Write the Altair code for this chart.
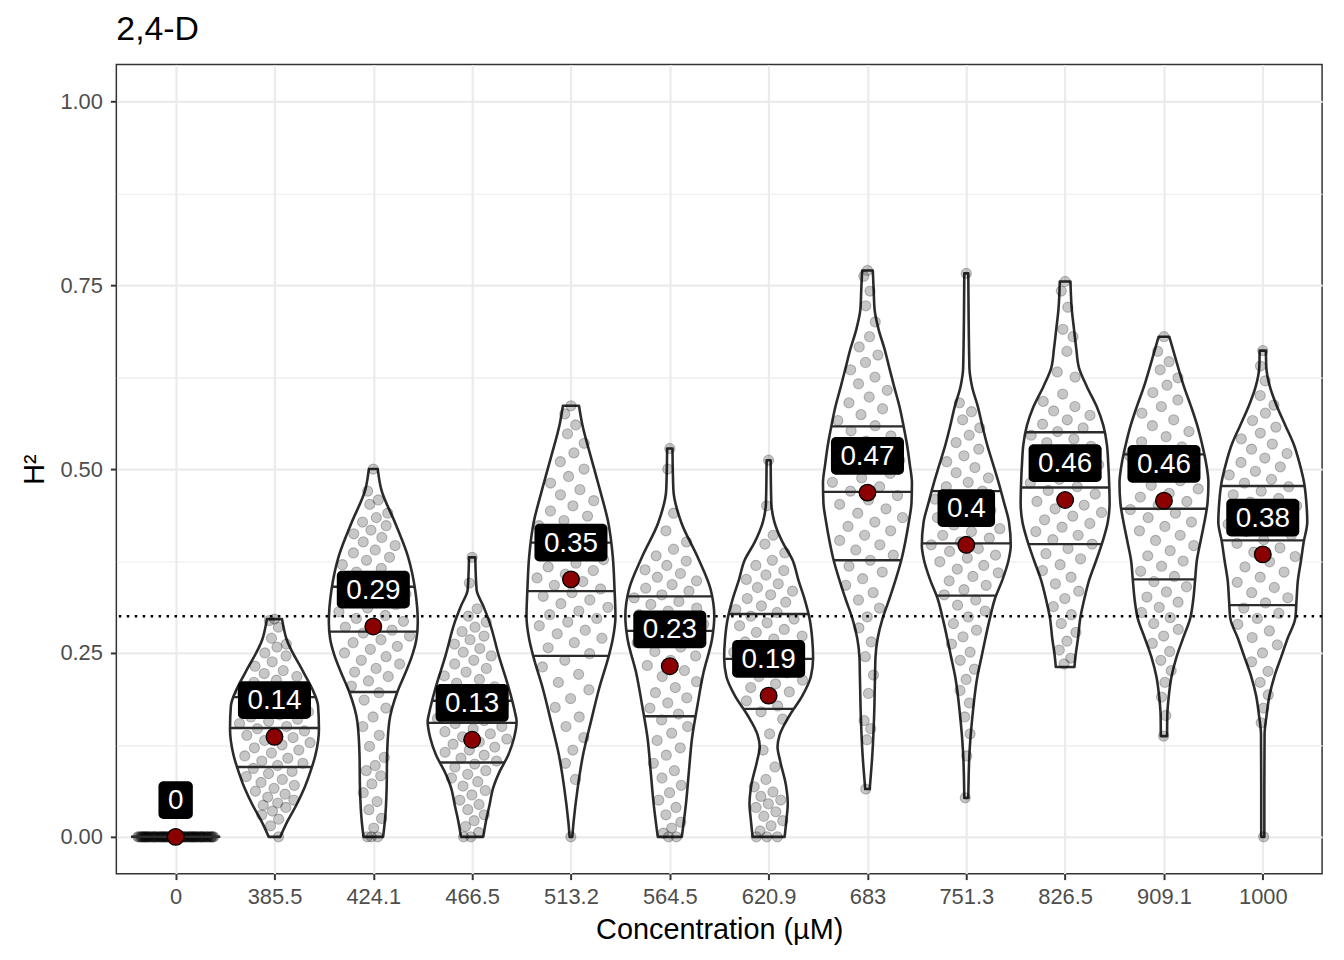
import json
import altair as alt
import numpy as np
import pandas as pd

# ---------------- data ----------------
categories = ["0", "385.5", "424.1", "466.5", "513.2", "564.5", "620.9",
              "683", "751.3", "826.5", "909.1", "1000"]
means = [0.0, 0.136, 0.286, 0.132, 0.350, 0.232, 0.192, 0.468, 0.397, 0.458, 0.457, 0.384]
mean_labels = ["0", "0.14", "0.29", "0.13", "0.35", "0.23", "0.19", "0.47", "0.4", "0.46", "0.46", "0.38"]
q25 = [0.0, 0.095, 0.197, 0.101, 0.246, 0.164, 0.174, 0.376, 0.328, 0.398, 0.350, 0.315]
q50 = [0.0, 0.148, 0.279, 0.155, 0.334, 0.280, 0.242, 0.469, 0.399, 0.475, 0.446, 0.403]
q75 = [0.0, 0.190, 0.340, 0.185, 0.400, 0.327, 0.303, 0.558, 0.470, 0.550, 0.520, 0.477]
threshold = [0.3]

# violin outlines: y levels and relative half-width (1 = widest)
vy0 = [0.0]
vw0 = [1.0]
vy1 = [0.0, 0.021, 0.043, 0.066, 0.089, 0.111, 0.147, 0.178, 0.201, 0.224, 0.269, 0.296]
vw1 = [0.13, 0.29, 0.49, 0.67, 0.81, 0.92, 1.0, 0.98, 0.85, 0.65, 0.27, 0.17]
vy2 = [0.0, 0.021, 0.066, 0.111, 0.157, 0.197, 0.224, 0.246, 0.269, 0.292, 0.336, 0.381, 0.427, 0.472, 0.500]
vw2 = [0.22, 0.26, 0.30, 0.31, 0.36, 0.54, 0.73, 0.87, 0.97, 1.0, 0.94, 0.78, 0.49, 0.18, 0.10]
vy3 = [0.0, 0.021, 0.043, 0.066, 0.089, 0.111, 0.134, 0.157, 0.170, 0.201, 0.246, 0.292, 0.314, 0.336, 0.380]
vw3 = [0.25, 0.31, 0.39, 0.47, 0.62, 0.81, 0.94, 1.0, 0.96, 0.83, 0.60, 0.39, 0.25, 0.10, 0.07]
vy4 = [0.0, 0.021, 0.066, 0.111, 0.157, 0.201, 0.246, 0.269, 0.300, 0.336, 0.381, 0.427, 0.472, 0.516, 0.562, 0.586]
vw4 = [0.03, 0.06, 0.15, 0.27, 0.45, 0.63, 0.85, 0.94, 1.0, 0.98, 0.94, 0.84, 0.65, 0.45, 0.25, 0.18]
vy5 = [0.0, 0.043, 0.089, 0.134, 0.178, 0.224, 0.269, 0.300, 0.336, 0.381, 0.427, 0.472, 0.528]
vw5 = [0.27, 0.36, 0.43, 0.50, 0.62, 0.76, 0.95, 1.0, 0.92, 0.62, 0.26, 0.08, 0.06]
vy6 = [0.0, 0.023, 0.045, 0.070, 0.103, 0.123, 0.139, 0.165, 0.192, 0.218, 0.243, 0.269, 0.297,
       0.323, 0.349, 0.376, 0.401, 0.428, 0.454, 0.512]
vw6 = [0.36, 0.40, 0.43, 0.39, 0.26, 0.20, 0.25, 0.47, 0.76, 0.95, 1.0, 0.98, 0.92,
       0.81, 0.67, 0.54, 0.31, 0.13, 0.06, 0.045]
vy7 = [0.065, 0.112, 0.165, 0.218, 0.244, 0.270, 0.297, 0.323, 0.349, 0.376, 0.401, 0.428, 0.454,
       0.481, 0.507, 0.533, 0.559, 0.585, 0.612, 0.638, 0.664, 0.690, 0.717, 0.743, 0.770]
vw7 = [0.05, 0.11, 0.15, 0.17, 0.18, 0.23, 0.34, 0.49, 0.63, 0.76, 0.85, 0.93, 0.99,
       1.0, 0.95, 0.89, 0.81, 0.72, 0.60, 0.49, 0.38, 0.25, 0.16, 0.14, 0.12]
vy8 = [0.053, 0.112, 0.165, 0.218, 0.244, 0.270, 0.297, 0.323, 0.349, 0.376, 0.396, 0.428, 0.454,
       0.481, 0.507, 0.533, 0.559, 0.585, 0.612, 0.638, 0.766]
vw8 = [0.045, 0.07, 0.14, 0.25, 0.34, 0.43, 0.53, 0.64, 0.81, 0.95, 1.0, 0.96, 0.85,
       0.73, 0.60, 0.47, 0.36, 0.26, 0.13, 0.07, 0.045]
vy9 = [0.231, 0.244, 0.270, 0.297, 0.323, 0.349, 0.376, 0.401, 0.428, 0.454, 0.481, 0.507, 0.533,
       0.559, 0.585, 0.612, 0.638, 0.664, 0.690, 0.717, 0.755]
vw9 = [0.21, 0.23, 0.29, 0.34, 0.43, 0.54, 0.70, 0.84, 0.96, 1.0, 0.99, 0.97, 0.94,
       0.86, 0.71, 0.49, 0.31, 0.25, 0.20, 0.15, 0.12]
vy10 = [0.137, 0.165, 0.192, 0.218, 0.244, 0.270, 0.297, 0.323, 0.349, 0.376, 0.401, 0.428, 0.454,
        0.481, 0.507, 0.533, 0.559, 0.585, 0.612, 0.638, 0.680]
vw10 = [0.07, 0.075, 0.11, 0.17, 0.28, 0.43, 0.59, 0.66, 0.70, 0.74, 0.82, 0.91, 0.98,
        1.0, 0.95, 0.86, 0.75, 0.61, 0.45, 0.32, 0.12]
vy11 = [0.0, 0.070, 0.139, 0.165, 0.192, 0.218, 0.244, 0.270, 0.297, 0.323, 0.349, 0.376, 0.401,
        0.428, 0.454, 0.481, 0.507, 0.533, 0.559, 0.585, 0.612, 0.638, 0.661]
vw11 = [0.035, 0.035, 0.04, 0.085, 0.15, 0.26, 0.41, 0.56, 0.73, 0.76, 0.79, 0.86, 0.92,
        1.0, 0.98, 0.93, 0.83, 0.70, 0.51, 0.32, 0.16, 0.08, 0.07]

# individual estimates (H^2) per concentration
pts0 = [0.0, 0.0, 0.0, 0.0, 0.0, 0.0, 0.0, 0.0, 0.0, 0.0, 0.0, 0.0, 0.0, 0.0, 0.0, 0.0,
        0.0, 0.0, 0.0, 0.0, 0.0, 0.0, 0.0, 0.0, 0.0, 0.0, 0.0, 0.0, 0.0, 0.0, 0.0, 0.0,
        0.0, 0.0, 0.0, 0.0, 0.0, 0.0, 0.0, 0.0, 0.0, 0.0, 0.0, 0.0, 0.0, 0.0, 0.0, 0.0,
        0.0, 0.0, 0.0, 0.0, 0.0, 0.0, 0.0, 0.0, 0.0, 0.0, 0.0, 0.0, 0.0, 0.0, 0.0, 0.0,
        0.0, 0.0, 0.0, 0.0, 0.0, 0.0, 0.0, 0.0, 0.0, 0.0, 0.0, 0.0, 0.0, 0.0, 0.0, 0.0]
pts1 = [0.296, 0.294, 0.285, 0.27, 0.262, 0.258, 0.25, 0.246, 0.238, 0.232, 0.226, 0.222, 0.218,
        0.213, 0.21, 0.204, 0.2, 0.197, 0.193, 0.19, 0.186, 0.183, 0.18, 0.176, 0.173, 0.17,
        0.166, 0.163, 0.16, 0.157, 0.154, 0.15, 0.147, 0.144, 0.141, 0.138, 0.135, 0.131, 0.128,
        0.125, 0.121, 0.118, 0.114, 0.11, 0.107, 0.103, 0.1, 0.097, 0.093, 0.089, 0.086, 0.082,
        0.078, 0.074, 0.07, 0.066, 0.062, 0.058, 0.054, 0.05, 0.046, 0.043, 0.04, 0.035, 0.03,
        0.024, 0.015, 0.0]
pts2 = [0.5, 0.47, 0.458, 0.452, 0.44, 0.434, 0.428, 0.423, 0.417, 0.412, 0.407, 0.401, 0.396,
        0.39, 0.386, 0.38, 0.376, 0.37, 0.365, 0.36, 0.354, 0.35, 0.345, 0.34, 0.335, 0.33,
        0.325, 0.321, 0.316, 0.311, 0.306, 0.301, 0.297, 0.293, 0.289, 0.285, 0.281, 0.277,
        0.273, 0.268, 0.264, 0.259, 0.255, 0.25, 0.245, 0.24, 0.235, 0.229, 0.224, 0.218, 0.212,
        0.205, 0.196, 0.186, 0.175, 0.163, 0.15, 0.138, 0.123, 0.108, 0.097, 0.09, 0.083, 0.072,
        0.06, 0.048, 0.037, 0.025, 0.012, 0.0, 0.0, 0.0]
pts3 = [0.38, 0.345, 0.31, 0.3, 0.292, 0.285, 0.279, 0.273, 0.268, 0.262, 0.256, 0.251, 0.246,
        0.24, 0.235, 0.229, 0.224, 0.219, 0.214, 0.209, 0.204, 0.199, 0.194, 0.19, 0.186, 0.181,
        0.177, 0.173, 0.169, 0.165, 0.161, 0.158, 0.154, 0.15, 0.147, 0.143, 0.14, 0.136, 0.133,
        0.129, 0.126, 0.122, 0.118, 0.115, 0.111, 0.107, 0.103, 0.099, 0.095, 0.09, 0.085, 0.08,
        0.075, 0.069, 0.063, 0.057, 0.05, 0.044, 0.037, 0.03, 0.022, 0.014, 0.006, 0.0, 0.0]
pts4 = [0.586, 0.575, 0.56, 0.548, 0.535, 0.522, 0.51, 0.5, 0.49, 0.481, 0.472, 0.465, 0.457,
        0.45, 0.443, 0.436, 0.43, 0.423, 0.417, 0.411, 0.405, 0.399, 0.394, 0.388, 0.383, 0.377,
        0.372, 0.367, 0.362, 0.357, 0.352, 0.347, 0.342, 0.337, 0.332, 0.327, 0.322, 0.317,
        0.312, 0.307, 0.302, 0.297, 0.292, 0.287, 0.281, 0.276, 0.27, 0.264, 0.257, 0.249,
        0.24, 0.231, 0.221, 0.21, 0.2, 0.188, 0.176, 0.163, 0.15, 0.135, 0.118, 0.1, 0.078, 0.0]
pts5 = [0.528, 0.5, 0.44, 0.416, 0.401, 0.391, 0.382, 0.375, 0.369, 0.363, 0.358, 0.353, 0.348,
        0.343, 0.338, 0.334, 0.329, 0.325, 0.32, 0.316, 0.311, 0.307, 0.302, 0.298, 0.293,
        0.289, 0.284, 0.279, 0.274, 0.269, 0.264, 0.258, 0.252, 0.246, 0.24, 0.233, 0.226,
        0.218, 0.211, 0.203, 0.196, 0.189, 0.182, 0.175, 0.167, 0.159, 0.15, 0.141, 0.131, 0.121,
        0.111, 0.1, 0.09, 0.08, 0.07, 0.06, 0.05, 0.04, 0.03, 0.02, 0.012, 0.005, 0.0, 0.0]
pts6 = [0.512, 0.45, 0.41, 0.398, 0.386, 0.376, 0.369, 0.362, 0.356, 0.35, 0.344, 0.339, 0.334,
        0.329, 0.324, 0.319, 0.314, 0.309, 0.305, 0.3, 0.296, 0.291, 0.287, 0.282, 0.278, 0.273,
        0.269, 0.265, 0.26, 0.256, 0.251, 0.247, 0.242, 0.238, 0.233, 0.228, 0.223, 0.218, 0.213,
        0.208, 0.203, 0.197, 0.191, 0.185, 0.178, 0.17, 0.16, 0.14, 0.118, 0.095, 0.078, 0.068,
        0.061, 0.055, 0.05, 0.045, 0.04, 0.034, 0.028, 0.022, 0.015, 0.008, 0.0, 0.0, 0.0]
pts7 = [0.77, 0.762, 0.742, 0.722, 0.7, 0.68, 0.666, 0.655, 0.645, 0.635, 0.625, 0.616, 0.607,
        0.598, 0.59, 0.582, 0.574, 0.566, 0.559, 0.552, 0.545, 0.538, 0.531, 0.525, 0.518,
        0.512, 0.506, 0.5, 0.494, 0.488, 0.482, 0.476, 0.47, 0.464, 0.458, 0.452, 0.446, 0.44,
        0.434, 0.428, 0.422, 0.416, 0.41, 0.403, 0.397, 0.39, 0.383, 0.376, 0.368, 0.36, 0.351,
        0.342, 0.332, 0.322, 0.311, 0.299, 0.284, 0.265, 0.245, 0.22, 0.195, 0.158, 0.147,
        0.132, 0.065]
pts8 = [0.766, 0.59, 0.578, 0.567, 0.556, 0.546, 0.536, 0.527, 0.518, 0.51, 0.502, 0.495, 0.488,
        0.482, 0.476, 0.47, 0.464, 0.459, 0.454, 0.449, 0.444, 0.439, 0.434, 0.429, 0.424,
        0.419, 0.415, 0.41, 0.406, 0.401, 0.397, 0.392, 0.388, 0.383, 0.379, 0.374, 0.369,
        0.364, 0.359, 0.354, 0.348, 0.342, 0.336, 0.329, 0.322, 0.315, 0.307, 0.299, 0.29,
        0.281, 0.272, 0.262, 0.251, 0.24, 0.228, 0.214, 0.199, 0.182, 0.163, 0.14, 0.11, 0.053]
pts9 = [0.755, 0.742, 0.72, 0.69, 0.68, 0.66, 0.632, 0.625, 0.602, 0.592, 0.585, 0.579, 0.573,
        0.567, 0.561, 0.556, 0.551, 0.546, 0.541, 0.536, 0.531, 0.526, 0.521, 0.516, 0.511,
        0.506, 0.501, 0.496, 0.491, 0.486, 0.481, 0.476, 0.471, 0.466, 0.461, 0.456, 0.451,
        0.446, 0.441, 0.436, 0.431, 0.426, 0.421, 0.415, 0.41, 0.404, 0.398, 0.392, 0.385,
        0.378, 0.37, 0.362, 0.353, 0.344, 0.334, 0.324, 0.313, 0.302, 0.29, 0.278, 0.266, 0.254,
        0.243, 0.235]
pts10 = [0.68, 0.66, 0.646, 0.635, 0.624, 0.614, 0.604, 0.594, 0.585, 0.576, 0.567, 0.559, 0.551,
         0.544, 0.537, 0.53, 0.524, 0.518, 0.512, 0.506, 0.5, 0.495, 0.489, 0.484, 0.478, 0.473,
         0.467, 0.462, 0.456, 0.451, 0.445, 0.44, 0.434, 0.428, 0.422, 0.416, 0.41, 0.403,
         0.396, 0.389, 0.382, 0.375, 0.368, 0.361, 0.354, 0.347, 0.34, 0.333, 0.326, 0.319,
         0.312, 0.305, 0.298, 0.29, 0.282, 0.273, 0.263, 0.252, 0.24, 0.226, 0.21, 0.19, 0.165,
         0.137]
pts11 = [0.661, 0.64, 0.62, 0.6, 0.587, 0.576, 0.566, 0.557, 0.549, 0.541, 0.534, 0.527, 0.521,
         0.515, 0.509, 0.503, 0.497, 0.492, 0.486, 0.481, 0.476, 0.47, 0.465, 0.46, 0.455, 0.45,
         0.445, 0.44, 0.435, 0.43, 0.425, 0.42, 0.415, 0.41, 0.404, 0.399, 0.393, 0.387, 0.381,
         0.374, 0.367, 0.36, 0.353, 0.346, 0.339, 0.332, 0.325, 0.318, 0.311, 0.304, 0.297,
         0.289, 0.28, 0.271, 0.261, 0.25, 0.238, 0.225, 0.21, 0.193, 0.175, 0.155, 0.0]

outline_y = [vy0, vy1, vy2, vy3, vy4, vy5, vy6, vy7, vy8, vy9, vy10, vy11]
outline_w = [vw0, vw1, vw2, vw3, vw4, vw5, vw6, vw7, vw8, vw9, vw10, vw11]
points = [pts0, pts1, pts2, pts3, pts4, pts5, pts6, pts7, pts8, pts9, pts10, pts11]

# ---------------- build tables ----------------
HALF = 0.45          # max violin half width (category units)
PX_X = 99.43         # pixels per category unit
PX_Y = 740.0         # pixels per H2 unit

vrows = []
for i, (ys, ws) in enumerate(zip(outline_y, outline_w)):
    if len(ys) < 2:
        continue
    for y, w in zip(ys, ws):
        vrows.append({"grp": i, "y": y, "x": i - HALF * w, "x2": i + HALF * w})
violins = pd.DataFrame(vrows)

prows = []
for i, pts in enumerate(points):
    ys, ws = outline_y[i], outline_w[i]
    for j, y in enumerate(pts):
        w = float(np.interp(y, ys, ws))
        u = ((0.5 + j * 0.6180339887) % 1.0) * 2 - 1
        prows.append({"grp": i, "y": y, "x": i + u * 0.86 * HALF * w})
pointsdf = pd.DataFrame(prows)

qrows = []
for i in range(len(categories)):
    ys, ws = outline_y[i], outline_w[i]
    for q in (q25[i], q50[i], q75[i]):
        w = float(np.interp(q, ys, ws))
        qrows.append({"grp": i, "y": q, "x": i - HALF * w, "x2": i + HALF * w})
quant = pd.DataFrame(qrows)

mrows = []
for i, (m, lab) in enumerate(zip(means, mean_labels)):
    nd = sum(ch.isdigit() for ch in lab)
    ndot = lab.count(".")
    tw = 28 * (0.556 * nd + 0.278 * ndot)
    hw = (tw / 2 + 9.5) / PX_X
    hh = 19.0 / PX_Y
    ly = m + 0.05
    mrows.append({"grp": i, "x": float(i), "y": m, "ly": ly, "label": lab,
                  "bx": i - hw, "bx2": i + hw, "by": ly - hh, "by2": ly + hh})
meandf = pd.DataFrame(mrows)
thr = pd.DataFrame({"y": threshold})

# ---------------- scales / axes ----------------
FONT = "Liberation Sans"
major_test = "abs(datum.value*4 - round(datum.value*4)) < 0.001"
xscale = alt.Scale(domain=[-0.6, 11.6], nice=False, zero=False)
yscale = alt.Scale(domain=[-0.05, 1.05], nice=False, zero=False)
xaxis = alt.Axis(values=list(range(len(categories))),
                 labelExpr=json.dumps(categories) + "[round(datum.value)]",
                 title="Concentration (µM)", grid=True)
yaxis = alt.Axis(values=[0, 0.125, 0.25, 0.375, 0.5, 0.625, 0.75, 0.875, 1.0],
                 labelExpr=major_test + " ? format(datum.value, '.2f') : ''",
                 gridWidth={"condition": {"test": major_test, "value": 2.2}, "value": 1.1},
                 tickSize={"condition": {"test": major_test, "value": 6}, "value": 0},
                 title="H²", grid=True)

X = alt.X("x:Q", scale=xscale, axis=xaxis)
Y = alt.Y("y:Q", scale=yscale, axis=yaxis)

violin = alt.Chart(violins).mark_area(
    orient="horizontal", interpolate="monotone", fill="white",
    stroke="#2B2B2B", strokeWidth=2.6, strokeJoin="round"
).encode(y=Y, x=X, x2="x2:Q", detail="grp:N")

dots = alt.Chart(pointsdf).mark_circle(
    size=105, color="black", fillOpacity=0.22, stroke="black", strokeOpacity=0.24, strokeWidth=1.1
).encode(x=X, y=Y)

qlines = alt.Chart(quant).mark_rule(color="#2B2B2B", strokeWidth=2.4).encode(
    x=X, x2="x2:Q", y=Y)

dotted = alt.Chart(thr).mark_rule(color="black", strokeWidth=2.5, strokeDash=[2.5, 5.5]).encode(y=Y)

meanpts = alt.Chart(meandf).mark_point(
    filled=True, shape="circle", size=280, fill="#8B0000", stroke="black",
    strokeWidth=1.3, opacity=1
).encode(x=X, y=Y)

boxes = alt.Chart(meandf).mark_rect(color="black", cornerRadius=5).encode(
    x=alt.X("bx:Q", scale=xscale, axis=xaxis), x2="bx2:Q",
    y=alt.Y("by:Q", scale=yscale, axis=yaxis), y2="by2:Q")

texts = alt.Chart(meandf).mark_text(
    color="white", fontSize=28, font=FONT, align="center", baseline="middle", dy=1
).encode(x=X, y=alt.Y("ly:Q", scale=yscale, axis=yaxis), text="label:N")

chart = alt.layer(violin, dots, qlines, dotted, meanpts, boxes, texts).properties(
    width=1213, height=814,
    title=alt.TitleParams("2,4-D", anchor="start", frame="group", fontSize=34, font=FONT,
                          fontWeight="normal", color="black", offset=18),
    autosize=alt.AutoSizeParams(type="none"),
    padding={"left": 109, "top": 54, "right": 14, "bottom": 78},
).configure_view(
    stroke="#333333", strokeWidth=1.5
).configure_axis(
    domain=False, gridColor="#EBEBEB", gridWidth=2.2,
    tickColor="#333333", tickWidth=2, tickSize=6,
    labelFont=FONT, labelFontSize=22, labelColor="#4D4D4D", labelPadding=8,
    titleFont=FONT, titleFontSize=29, titleColor="black", titleFontWeight="normal"
).configure_axisX(titlePadding=8, labelPadding=7
).configure_axisY(titlePadding=10)

chart.save("out.html", embed_options={"renderer": "svg", "actions": False})
